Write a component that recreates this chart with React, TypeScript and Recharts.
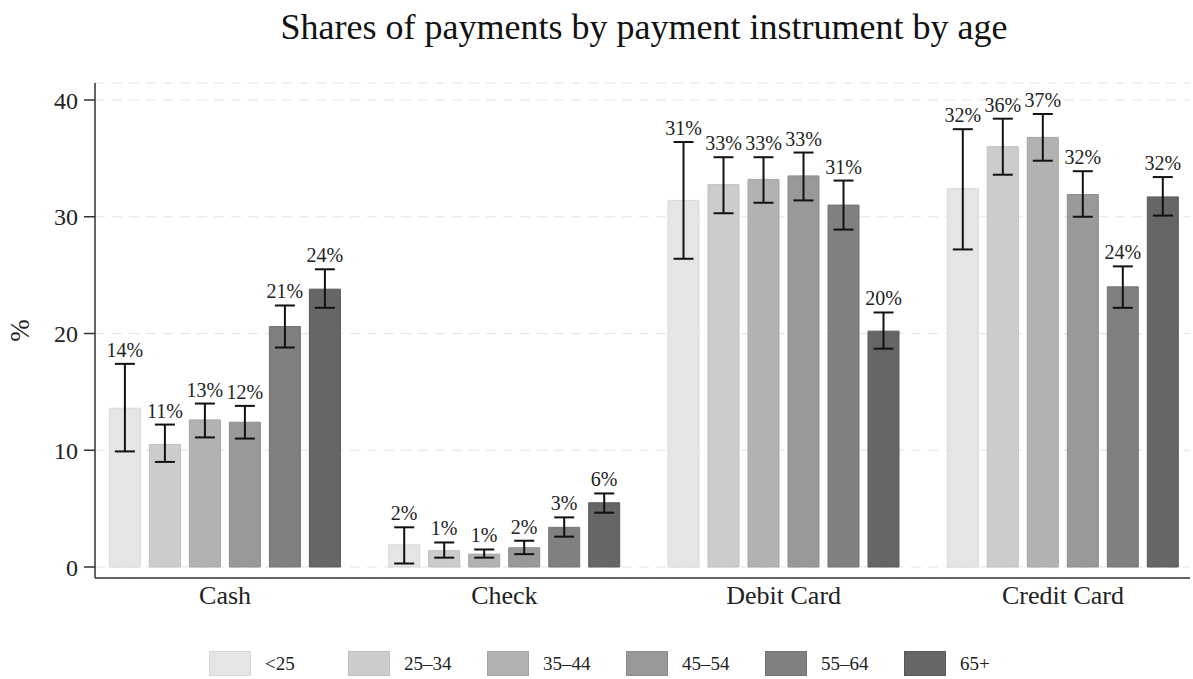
import React from 'react';
import {
  BarChart,
  Bar,
  XAxis,
  YAxis,
  CartesianGrid,
  ErrorBar,
  Legend,
  LabelList,
} from 'recharts';

const categories = ['Cash', 'Check', 'Debit Card', 'Credit Card'];
const ageGroups = ['<25', '25–34', '35–44', '45–54', '55–64', '65+'];

// share of payments (%) by category, one array per age group
const sharesU25 = [13.6, 1.9, 31.4, 32.4];
const shares25to34 = [10.5, 1.4, 32.75, 36.0];
const shares35to44 = [12.6, 1.1, 33.2, 36.8];
const shares45to54 = [12.4, 1.65, 33.5, 31.9];
const shares55to64 = [20.6, 3.4, 31.0, 24.0];
const shares65plus = [23.8, 5.5, 20.2, 31.7];

// confidence interval bounds
const lowU25 = [9.9, 0.3, 26.4, 27.2];
const highU25 = [17.4, 3.4, 36.4, 37.5];
const low25to34 = [9.0, 0.8, 30.3, 33.6];
const high25to34 = [12.2, 2.1, 35.1, 38.4];
const low35to44 = [11.1, 0.8, 31.2, 34.8];
const high35to44 = [14.0, 1.5, 35.1, 38.8];
const low45to54 = [11.0, 1.1, 31.4, 30.0];
const high45to54 = [13.8, 2.25, 35.5, 33.9];
const low55to64 = [18.8, 2.6, 28.9, 22.2];
const high55to64 = [22.4, 4.25, 33.1, 25.75];
const low65plus = [22.2, 4.65, 18.7, 30.1];
const high65plus = [25.5, 6.3, 21.8, 33.4];

// printed labels
const labelsU25 = ['14%', '2%', '31%', '32%'];
const labels25to34 = ['11%', '1%', '33%', '36%'];
const labels35to44 = ['13%', '1%', '33%', '37%'];
const labels45to54 = ['12%', '2%', '33%', '32%'];
const labels55to64 = ['21%', '3%', '31%', '24%'];
const labels65plus = ['24%', '6%', '20%', '32%'];

const yTicks = [0, 10, 20, 30, 40];

const fills = ['#e5e5e5', '#cccccc', '#b2b2b2', '#999999', '#808080', '#666666'];
const strokes = ['#d8d8d8', '#bfbfbf', '#a5a5a5', '#8c8c8c', '#737373', '#595959'];

const series = [
  { shares: sharesU25, low: lowU25, high: highU25, labels: labelsU25 },
  { shares: shares25to34, low: low25to34, high: high25to34, labels: labels25to34 },
  { shares: shares35to44, low: low35to44, high: high35to44, labels: labels35to44 },
  { shares: shares45to54, low: low45to54, high: high45to54, labels: labels45to54 },
  { shares: shares55to64, low: low55to64, high: high55to64, labels: labels55to64 },
  { shares: shares65plus, low: low65plus, high: high65plus, labels: labels65plus },
];

const data = categories.map((name, i) => {
  const row: Record<string, any> = { name };
  series.forEach((s, k) => {
    row[`v${k}`] = s.shares[i];
    row[`e${k}`] = [s.shares[i] - s.low[i], s.high[i] - s.shares[i]];
  });
  return row;
});

const FONT = '"Liberation Serif", "DejaVu Serif", serif';

// label sits above the top of the error bar
const makeLabel = (k: number) => (props: any) => {
  const { x, y, width, height, index } = props;
  const val = series[k].shares[index];
  const hi = series[k].high[index];
  const pxPerUnit = height / val;
  const top = y - (hi - val) * pxPerUnit;
  return (
    <text
      x={x + width / 2}
      y={top - 7}
      textAnchor="middle"
      fontSize={20}
      fontFamily={FONT}
      fill="#222"
    >
      {series[k].labels[index]}
    </text>
  );
};

const renderLegend = () => (
  <div style={{ display: 'flex', fontFamily: FONT }}>
    {ageGroups.map((g, k) => (
      <div key={g} style={{ width: 139, display: 'flex', alignItems: 'center' }}>
        <div
          style={{
            width: 40,
            height: 23,
            background: fills[k],
            border: `1px solid ${strokes[k]}`,
            marginRight: 14,
          }}
        />
        <span style={{ fontSize: 19, color: '#222' }}>{g}</span>
      </div>
    ))}
  </div>
);

const App: React.FC = () => {
  return (
    <div
      style={{
        position: 'absolute',
        top: 0,
        left: 0,
        width: 1193,
        height: 679,
        background: '#fff',
        fontFamily: FONT,
      }}
    >
      <div
        style={{
          position: 'absolute',
          top: 6,
          left: 244,
          width: 800,
          textAlign: 'center',
          fontSize: 36,
          color: '#111',
        }}
      >
        Shares of payments by payment instrument by age
      </div>
      <BarChart
        width={1193}
        height={679}
        data={data}
        margin={{ top: 83, right: 3, left: 0, bottom: 61 }}
        barSize={31}
        barGap={9}
      >
        <CartesianGrid
          vertical={false}
          stroke="#e3e3e3"
          strokeDasharray="10 7"
        />
        <XAxis
          dataKey="name"
          height={40}
          padding={{ left: -9.6, right: -12.6 }}
          tickLine={false}
          axisLine={{ stroke: '#333', strokeWidth: 1.5 }}
          tick={{ fontSize: 26, fill: '#222', fontFamily: FONT }}
          tickMargin={2}
        />
        <YAxis
          width={95}
          domain={[0, 40]}
          ticks={yTicks}
          padding={{ top: 17, bottom: 11 }}
          tickSize={11}
          tickMargin={6}
          axisLine={{ stroke: '#333', strokeWidth: 1.5 }}
          tickLine={{ stroke: '#333', strokeWidth: 1.5 }}
          tick={{ fontSize: 24, fill: '#222', fontFamily: FONT }}
          label={{
            value: '%',
            angle: -90,
            position: 'center',
            dx: -28,
            style: { fontSize: 27, fill: '#222', fontFamily: FONT },
          }}
        />
        <Legend
          verticalAlign="middle"
          align="center"
          layout="horizontal"
          wrapperStyle={{ top: 651, left: 209, width: 900 }}
          content={renderLegend}
        />
        {series.map((s, k) => (
          <Bar
            key={k}
            dataKey={`v${k}`}
            name={ageGroups[k]}
            fill={fills[k]}
            stroke={strokes[k]}
            strokeWidth={1}
            isAnimationActive={false}
          >
            <ErrorBar
              dataKey={`e${k}`}
              width={10}
              stroke="#111"
              strokeWidth={2}
              direction="y"
            />
            <LabelList dataKey={`v${k}`} content={makeLabel(k)} />
          </Bar>
        ))}
      </BarChart>
    </div>
  );
};

export default App;
